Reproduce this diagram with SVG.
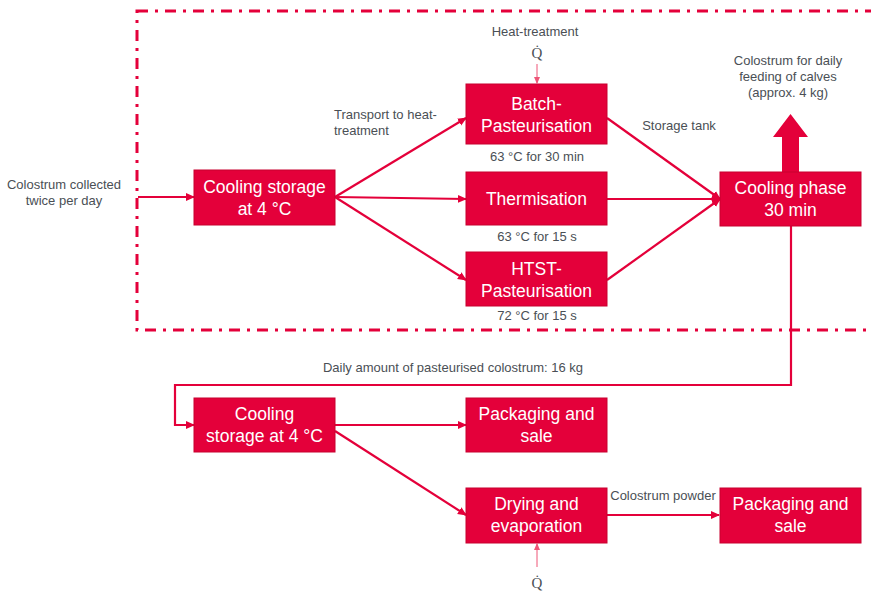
<svg xmlns="http://www.w3.org/2000/svg" width="871" height="593" viewBox="0 0 871 593">
<defs>
<marker id="ah" markerWidth="10" markerHeight="10" refX="8" refY="5" orient="auto" markerUnits="userSpaceOnUse">
<path d="M0,1 L9,5 L0,9 Z" fill="#e4003a"/>
</marker>
<marker id="ahs" markerWidth="8" markerHeight="8" refX="6" refY="4" orient="auto" markerUnits="userSpaceOnUse">
<path d="M0,1 L7,4 L0,7 Z" fill="#ee5577"/>
</marker>
</defs>
<style>
.box{fill:#e4003a;stroke:#c8002f;stroke-width:1}
.bt{font-family:"Liberation Sans",Arial,sans-serif;font-size:17.5px;fill:#ffffff;text-anchor:middle}
.lb{font-family:"Liberation Sans",Arial,sans-serif;font-size:13px;fill:#4a4f55;text-anchor:middle}
.q{font-family:"Liberation Serif","Times New Roman",serif;font-size:15px;fill:#4a4f55;text-anchor:middle}
.ln{fill:none;stroke:#e4003a;stroke-width:2.2;marker-end:url(#ah)}
.thin{fill:none;stroke:#ee5577;stroke-width:1;marker-end:url(#ahs)}
.border{fill:none;stroke:#e4003a;stroke-width:3;stroke-dasharray:11 7 3 7}
</style>
<rect class="border" x="137" y="11" width="760" height="319"/>
<g id="connectors">
<line class="ln" x1="138" y1="197" x2="194" y2="197"/>
<line class="ln" x1="335" y1="197" x2="466" y2="118"/>
<line class="ln" x1="335" y1="197" x2="466" y2="199"/>
<line class="ln" x1="335" y1="197" x2="466" y2="280"/>
<line class="ln" x1="607" y1="118" x2="720" y2="199"/>
<line class="ln" x1="607" y1="199" x2="720" y2="199"/>
<line class="ln" x1="607" y1="280" x2="720" y2="199"/>
<polyline class="ln" points="791,226 791,385 175,385 175,425 194,425"/>
<line class="ln" x1="335" y1="425" x2="466" y2="425"/>
<line class="ln" x1="335" y1="431" x2="466" y2="515"/>
<line class="ln" x1="607" y1="515" x2="719" y2="515"/>
<line class="thin" x1="537" y1="64" x2="537" y2="83"/>
<line class="thin" x1="537" y1="567" x2="537" y2="544"/>
<path d="M782,172 L782,137 L773,137 L790.5,114 L808,137 L799,137 L799,172 Z" fill="#e4003a"/>
</g>
<g id="n_cool1"><rect class="box" x="194" y="170" width="141" height="55"/><text class="bt" x="264.5" y="193">Cooling storage</text><text class="bt" x="264.5" y="215">at 4 °C</text></g>
<g id="n_batch"><rect class="box" x="466" y="84" width="141" height="60"/><text class="bt" x="536.5" y="110">Batch-</text><text class="bt" x="536.5" y="132">Pasteurisation</text></g>
<g id="n_therm"><rect class="box" x="466" y="172" width="141" height="53"/><text class="bt" x="536.5" y="205">Thermisation</text></g>
<g id="n_htst"><rect class="box" x="466" y="252" width="141" height="54"/><text class="bt" x="536.5" y="275">HTST-</text><text class="bt" x="536.5" y="297">Pasteurisation</text></g>
<g id="n_coolphase"><rect class="box" x="720" y="172" width="141" height="54"/><text class="bt" x="790.5" y="194">Cooling phase</text><text class="bt" x="790.5" y="216">30 min</text></g>
<g id="n_cool2"><rect class="box" x="194" y="398" width="141" height="54"/><text class="bt" x="264.5" y="420">Cooling</text><text class="bt" x="264.5" y="442">storage at 4 °C</text></g>
<g id="n_pack1"><rect class="box" x="466" y="398" width="141" height="54"/><text class="bt" x="536.5" y="420">Packaging and</text><text class="bt" x="536.5" y="442">sale</text></g>
<g id="n_dry"><rect class="box" x="466" y="488" width="141" height="55"/><text class="bt" x="536.5" y="510">Drying and</text><text class="bt" x="536.5" y="532">evaporation</text></g>
<g id="n_pack2"><rect class="box" x="720" y="488" width="141" height="55"/><text class="bt" x="790.5" y="510">Packaging and</text><text class="bt" x="790.5" y="532">sale</text></g>
<g id="labels">
<text class="lb" x="64" y="189">Colostrum collected</text>
<text class="lb" x="64" y="205">twice per day</text>
<text class="lb" x="535" y="36">Heat-treatment</text>
<text class="q" x="537" y="58">Q̇</text>
<text class="lb" x="334" y="119" text-anchor="start" style="text-anchor:start">Transport to heat-</text>
<text class="lb" x="334" y="135" style="text-anchor:start">treatment</text>
<text class="lb" x="537" y="161">63 °C for 30 min</text>
<text class="lb" x="537" y="241">63 °C for 15 s</text>
<text class="lb" x="537" y="320">72 °C for 15 s</text>
<text class="lb" x="679" y="130">Storage tank</text>
<text class="lb" x="788" y="65">Colostrum for daily</text>
<text class="lb" x="788" y="81">feeding of calves</text>
<text class="lb" x="788" y="97">(approx. 4 kg)</text>
<text class="lb" x="453" y="372">Daily amount of pasteurised colostrum: 16 kg</text>
<text class="lb" x="663" y="500">Colostrum powder</text>
<text class="q" x="537" y="588">Q̇</text>
</g>
</svg>
